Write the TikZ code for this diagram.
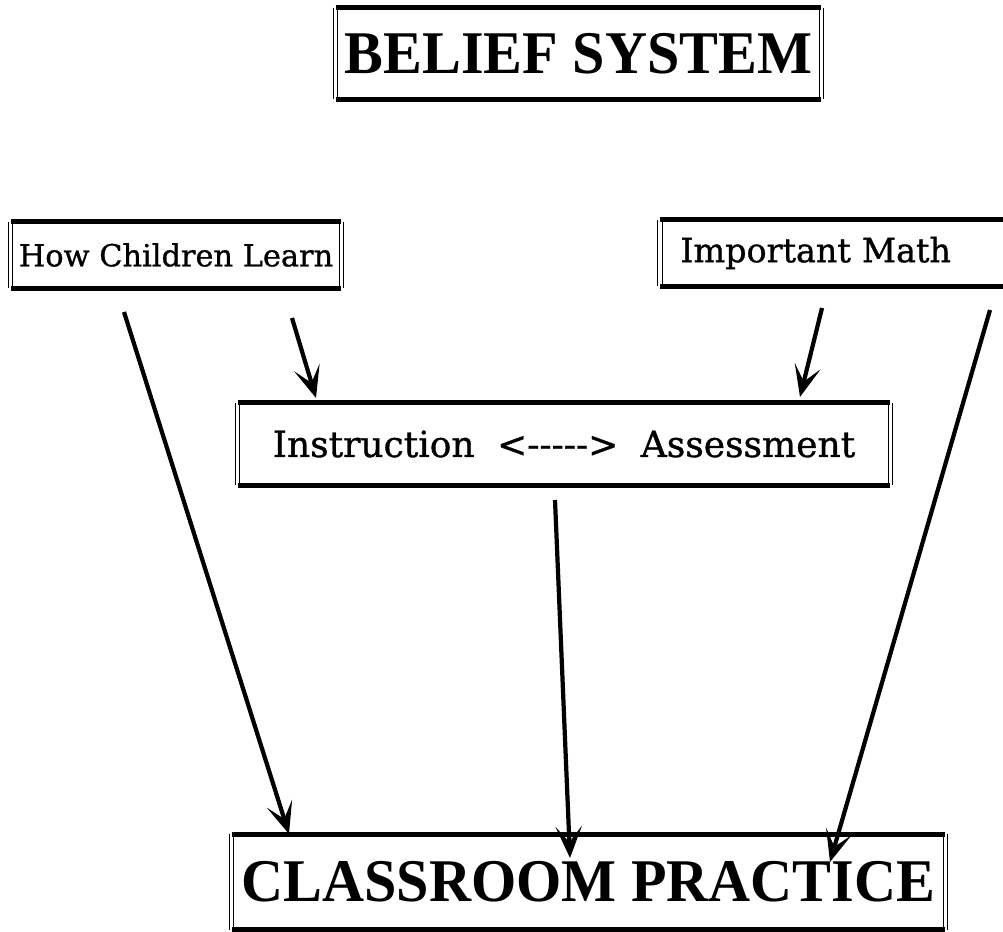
\documentclass[tikz,border=0pt]{standalone}
\usepackage{fontspec}
\setmainfont{Liberation Serif}
\newfontfamily\titlefont[FakeStretch=0.96]{Liberation Serif}
\newfontfamily\slabfont[FakeBold=0.9]{DejaVu Serif}
\usetikzlibrary{arrows.meta,calc}

\tikzset{
  bigbox/.style={inner sep=0pt,font=\titlefont\bfseries\fontsize{34.5}{38}\selectfont},
  smallbox/.style={inner sep=0pt,font=\slabfont\fontsize{17.3}{20}\selectfont},
  arr/.style={line width=2.4pt,-{Stealth[length=18pt,width=15pt,inset=9pt]}},
  rim/.style={line width=0.5pt,double distance=2pt},
  lid/.style={line width=2.8pt}
}

\begin{document}
\begin{tikzpicture}[x=0.02cm,y=-0.02cm]
\useasboundingbox (0,0) rectangle (1003,932);

\node[bigbox,minimum width=9.7cm,minimum height=1.82cm] (belief) at (578.5,53.5) {BELIEF SYSTEM};
\node[smallbox,minimum width=6.6cm,minimum height=1.32cm] (learn) at (176,255) {How Children Learn};
\node[smallbox,anchor=west,text width=6.6cm,align=left,inner xsep=0.4cm,minimum height=1.32cm,
      font=\slabfont\fontsize{19}{22}\selectfont] (math) at (660,253) {Important Math};
\node[smallbox,minimum width=13.04cm,minimum height=1.64cm,
      font=\slabfont\fontsize{20.5}{23}\selectfont] (instr) at (564,444)
      {Instruction\hspace{0.45cm}<{-}{-}{-}{-}{-}>\hspace{0.45cm}Assessment};
\node[bigbox,minimum width=14.26cm,minimum height=1.9cm] (practice) at (588.5,882) {CLASSROOM PRACTICE};

% frames: thin double sides, heavy top and bottom
\foreach \b in {belief,learn,math,instr,practice}{
  \draw[rim] (\b.north west) -- (\b.south west);
  \draw[rim] (\b.north east) -- (\b.south east);
  \draw[lid] (\b.north west) -- (\b.north east);
  \draw[lid] (\b.south west) -- (\b.south east);
}

\coordinate[] (L1) at (124,312);
\coordinate[] (L2) at (289,834);
\coordinate[] (C1) at (292,318);
\coordinate[] (C2) at (316,398);
\coordinate[] (M1) at (822,308);
\coordinate[] (M2) at (800,397);
\coordinate[] (I1) at (555,500);
\coordinate[] (I2) at (570,858);
\coordinate[] (R1) at (990,310);
\coordinate[] (R2) at (830,862);

\draw[arr] (L1) -- (L2);
\draw[arr] (C1) -- (C2);
\draw[arr] (M1) -- (M2);
\draw[arr] (I1) -- (I2);
\draw[arr] (R1) -- (R2);
\end{tikzpicture}
\end{document}
